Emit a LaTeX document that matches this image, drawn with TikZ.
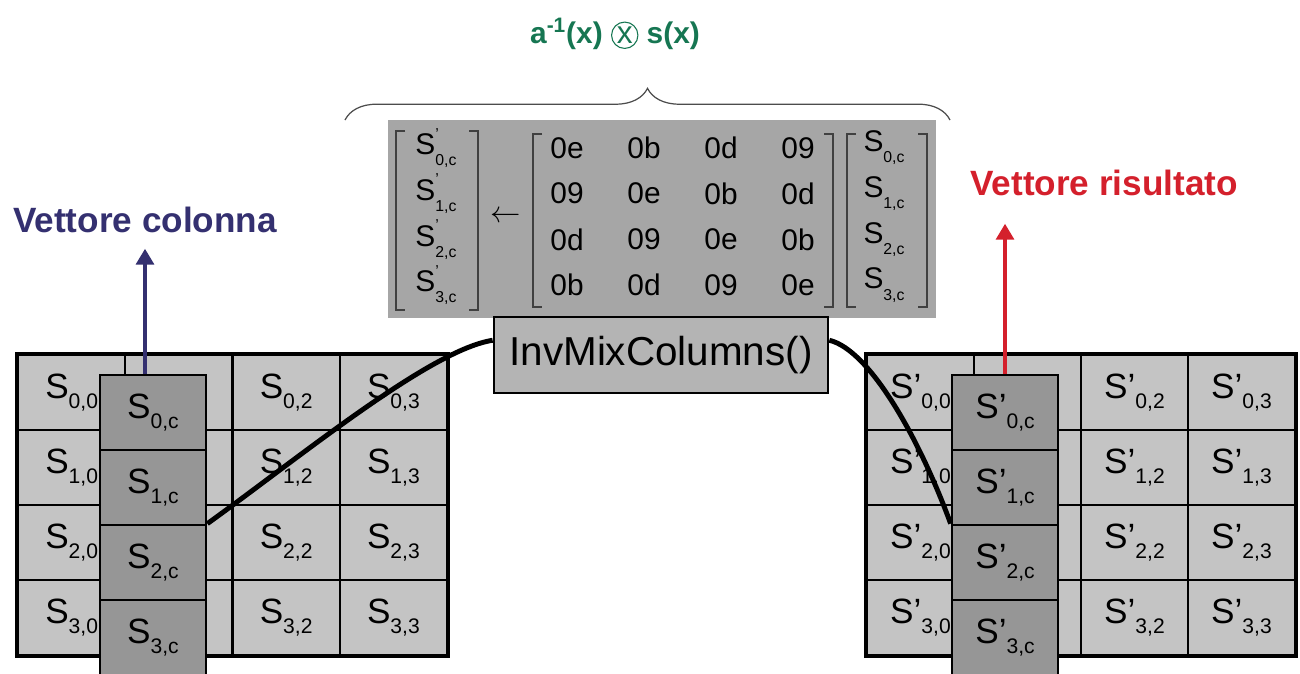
\documentclass[tikz,border=0pt]{standalone}
\usepackage{fontspec}
\setmainfont{Liberation Sans}
\usetikzlibrary{arrows.meta,decorations.pathreplacing,positioning}

\definecolor{cellgray}{RGB}{196,196,196}
\definecolor{colgray}{RGB}{150,150,150}
\definecolor{boxgray}{RGB}{166,166,166}
\definecolor{funcgray}{RGB}{180,180,180}
\definecolor{colblue}{RGB}{52,48,112}
\definecolor{resred}{RGB}{212,32,44}
\definecolor{formgreen}{RGB}{22,118,82}

% state entries: S with index, and S' with index
\newcommand{\sv}[1]{S\raisebox{-0.55ex}{\fontsize{12}{12}\selectfont #1}}
\newcommand{\svp}[1]{S'\raisebox{-0.55ex}{\fontsize{12}{12}\selectfont #1}}
% entries inside the coefficient box
\newcommand{\msv}[1]{S\raisebox{-0.7ex}{\fontsize{9}{9}\selectfont #1}}
\newcommand{\msvp}[1]{S\rlap{\raisebox{1.0ex}{\fontsize{9}{9}\selectfont '}}\raisebox{-0.7ex}{\fontsize{9}{9}\selectfont #1}}
% circled x of the product
\newcommand{\circx}{\tikz[baseline=(cx.base)]\node[circle,draw=formgreen,line width=0.6pt,inner sep=0pt,minimum size=15pt,font=\mdseries\fontsize{18}{18}\selectfont] (cx) {x};}

\begin{document}
\begin{tikzpicture}[x=0.02cm,y=-0.02cm]
    % Node styles
    \tikzset{
      statecell/.style={draw=black,line width=1.2pt,fill=cellgray,inner sep=0pt,
        minimum width=2.14cm,minimum height=1.5cm,font=\fontsize{20}{20}\selectfont},
      colcell/.style={draw=black,line width=1.6pt,fill=colgray,inner sep=0pt,
        minimum width=2.12cm,minimum height=1.5cm,font=\fontsize{20}{20}\selectfont},
      coeffbox/.style={fill=boxgray,inner sep=0pt,minimum width=10.98cm,minimum height=3.96cm},
      funcbox/.style={draw=black,line width=1.6pt,fill=funcgray,inner sep=0pt,
        minimum width=6.68cm,minimum height=1.52cm,font=\fontsize{23}{23}\selectfont},
      hexval/.style={inner sep=0pt,font=\fontsize{17}{17}\selectfont},
      vecval/.style={inner sep=0pt,font=\fontsize{17}{17}\selectfont},
      bracket/.style={draw=black!75,line width=1.2pt},
      link/.style={line width=2.8pt,black},
      vlabel/.style={inner sep=0pt,anchor=base,font=\bfseries\fontsize{20}{20}\selectfont},
      colarrow/.style={colblue,line width=2.2pt,-{Triangle[width=10pt,length=9pt]}},
      resarrow/.style={resred,line width=2.2pt,-{Triangle[width=10pt,length=9pt]}}
    }
    \useasboundingbox (0,0) rectangle (1300,673);

    % --- Left state grid ---
    \foreach \r in {0,...,3}{
      \foreach \c in {0,...,3}{
        \node[statecell] (l\r\c) at ({18+107.25*(\c+0.5)},{355+75*(\r+0.5)})
          {\ifnum\c=1 \else\sv{\r,\c}\fi};
      }
    }
    \draw[line width=2.2pt] (l00.north west) rectangle (l33.south east);

    % --- Right state grid ---
    \foreach \r in {0,...,3}{
      \foreach \c in {0,...,3}{
        \node[statecell] (r\r\c) at ({867+107*(\c+0.5)},{355+75*(\r+0.5)})
          {\ifnum\c=1 \else\svp{\r,\c}\fi};
      }
    }
    \draw[line width=2.2pt] (r00.north west) rectangle (r33.south east);

    % --- Coefficient box ---
    \node[coeffbox] (coeffs) at (662,219) {};
    \foreach \r in {0,...,3}{
      \node[vecval] (out\r) at (436,{148+45.7*\r}) {\msvp{\r,c}};
      \node[vecval] (in\r) at (884,{148+45.7*\r}) {\msv{\r,c}};
    }
    \foreach \row [count=\r from 0] in {{0e,0b,0d,09},{09,0e,0b,0d},{0d,09,0e,0b},{0b,0d,09,0e}}{
      \foreach \v [count=\c from 0] in \row{
        \node[hexval] (h\r\c) at ({567+77*\c},{148+45.7*\r}) {\v};
      }
    }
    \node[inner sep=0pt,font=\fontsize{18}{18}\selectfont] (assign) at (506,217) {$\leftarrow$};
    % brackets
    \draw[bracket] (405,131) -- (396,131) -- (396,310) -- (405,310);
    \draw[bracket] (469,131) -- (478,131) -- (478,310) -- (469,310);
    \draw[bracket] (542,134) -- (533,134) -- (533,307) -- (542,307);
    \draw[bracket] (824,134) -- (833,134) -- (833,307) -- (824,307);
    \draw[bracket] (856,134) -- (847,134) -- (847,307) -- (856,307);
    \draw[bracket] (918,134) -- (927,134) -- (927,307) -- (918,307);

    % --- Brace and formula ---
    \draw[black!70,line width=0.7pt,decorate,decoration={brace,amplitude=18pt}]
      (345,120) -- (950,120);
    \node[inner sep=0pt,formgreen,font=\bfseries\fontsize{17}{17}\selectfont] (formula) at (615,34)
      {a\textsuperscript{-1}(x) \circx{} s(x)};

    % --- InvMixColumns box ---
    \node[funcbox] (invmix) at (661,355) {InvMixColumns()};

    % --- Column vectors ---
    \foreach \r in {0,...,3}{
      \node[colcell] (lc\r) at (153,{375+75*(\r+0.5)}) {\sv{\r,c}};
      \node[colcell] (rc\r) at (1005,{375+75*(\r+0.5)}) {\svp{\r,c}};
    }

    % --- Links from columns to the box ---
    \draw[link] (lc2.north east) .. controls (300,457) and (430,350) .. (invmix.175);
    \draw[link] (invmix.5) .. controls (870,350) and (920,440) .. (rc2.north west);

    % --- Labels and arrows ---
    \node[vlabel,colblue] (collbl) at (145,232) {Vettore colonna};
    \node[vlabel,resred] (reslbl) at (1104,195) {Vettore risultato};
    \draw[colarrow,shorten >=0.32cm] (lc0.north -| collbl.south) -- (collbl.south);
    \draw[resarrow,shorten >=0.56cm] (rc0.north) -- (rc0.north |- reslbl.south);

\end{tikzpicture}
\end{document}
